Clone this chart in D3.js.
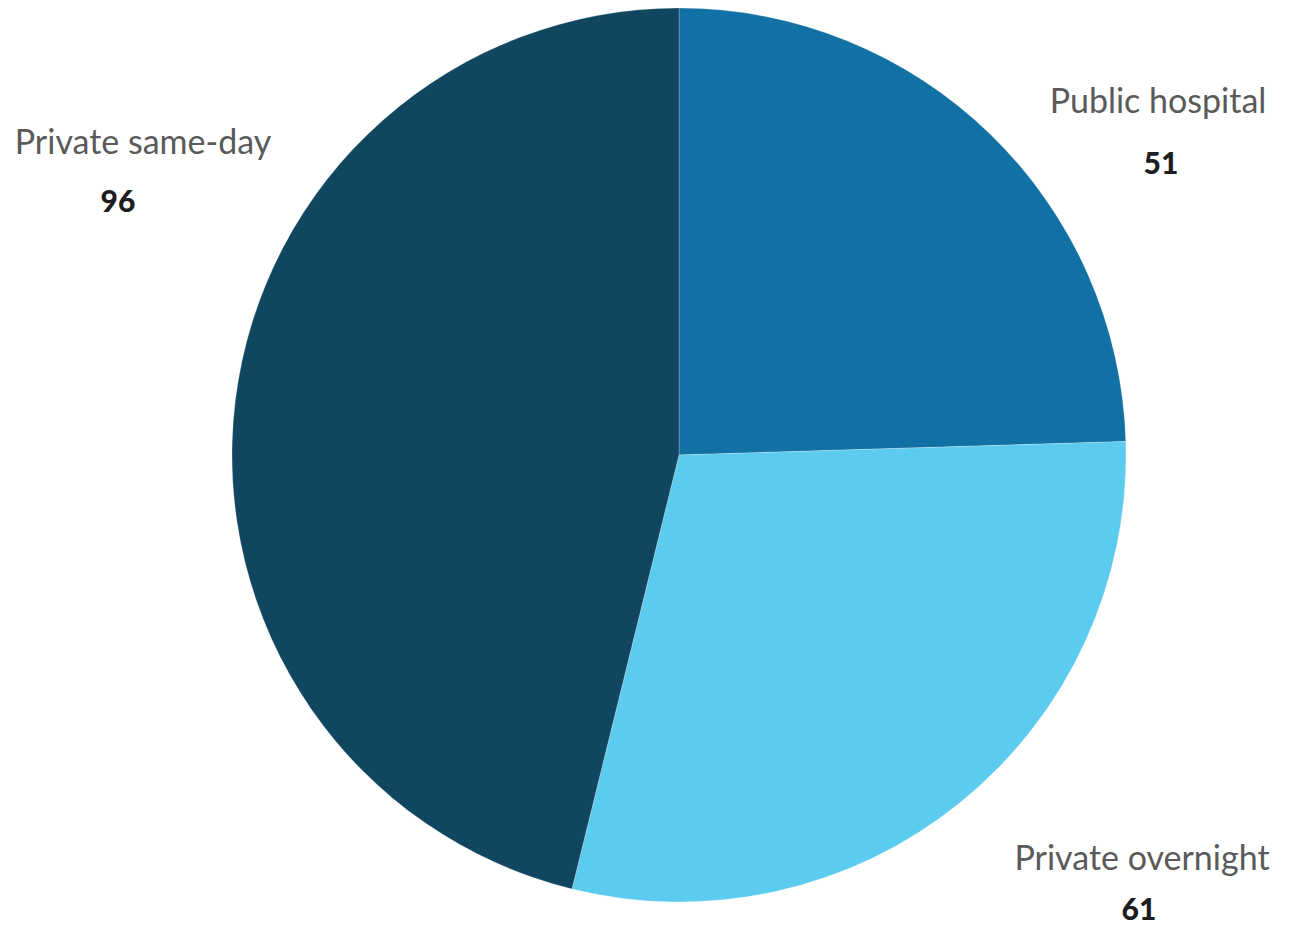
<!DOCTYPE html>
<html>
<head>
<meta charset="utf-8">
<script src="https://cdn.jsdelivr.net/npm/d3@7"></script>
<style>
  body { margin: 0; background: #fff; }
  svg { display: block; }
</style>
</head>
<body>
<div id="pie"></div>
<script>
// chart data
var categories = ["Public hospital", "Private overnight", "Private same-day"];
var values = [51, 61, 96];
var colours = ["#1170a4", "#5bcbf0", "#114660"];

// svg dimensions
var width = 1292,
    height = 926,
    cx = 679,
    cy = 455,
    radius = 447;

var svg = d3.select("#pie")
    .append("svg")
    .attr("width", width)
    .attr("height", height);

var data = categories.map(function(c, i){
    return {name: c, value: values[i]};
});

var color = d3.scaleOrdinal()
    .domain(categories)
    .range(colours);

var pie = d3.pie()
    .sort(null)
    .value(d => d.value);

var arc = d3.arc()
    .innerRadius(0)
    .outerRadius(radius);

var g = svg.append("g")
    .attr("transform", "translate(" + cx + "," + cy + ")");

g.selectAll("path")
    .data(pie(data))
    .enter()
    .append("path")
    .attr("d", arc)
    .attr("fill", d => color(d.data.name))
    .attr("stroke", "#ffffff")
    .attr("stroke-opacity", 0.4)
    .attr("stroke-width", 0.6);

// label positions (name centre x, name baseline y, value centre x, value baseline y)
var labelPos = [
    {x: 1158, y: 113, vx: 1161, vy: 174},
    {x: 1142, y: 870, vx: 1139, vy: 920},
    {x: 143, y: 154, vx: 118, vy: 212}
];

var labels = svg.append("g")
    .selectAll("g")
    .data(data)
    .enter()
    .append("g");

labels.append("text")
    .attr("x", (d, i) => labelPos[i].x)
    .attr("y", (d, i) => labelPos[i].y)
    .attr("text-anchor", "middle")
    .attr("font-family", "Lato, sans-serif")
    .attr("font-size", 34)
    .attr("fill", "#5a5a5a")
    .text(d => d.name);

labels.append("text")
    .attr("x", (d, i) => labelPos[i].vx)
    .attr("y", (d, i) => labelPos[i].vy)
    .attr("text-anchor", "middle")
    .attr("font-family", "Lato, sans-serif")
    .attr("font-weight", 900)
    .attr("font-size", 30)
    .attr("fill", "#1e1e1e")
    .text(d => d.value);
</script>
</body>
</html>
